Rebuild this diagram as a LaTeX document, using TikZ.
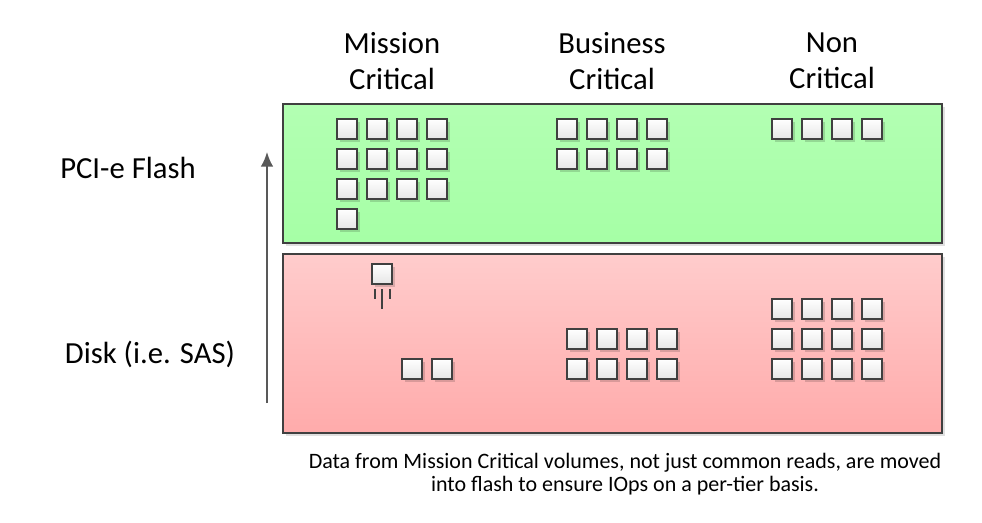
\documentclass[tikz,border=0pt]{standalone}
\usepackage{fontspec}
\setmainfont{Carlito}
\usetikzlibrary{shadows,arrows.meta}
\tikzset{>=latex}
\tikzset{
  tier/.style={draw=black!75,line width=0.8pt,inner sep=0pt,
    drop shadow={shadow xshift=2.5pt,shadow yshift=-2.5pt,fill=black,opacity=0.12}},
  vol/.style={draw=black!75,line width=0.9pt,minimum size=15pt,inner sep=0pt,
    top color=white,bottom color=black!10,
    drop shadow={shadow xshift=2.2pt,shadow yshift=-2.2pt,fill=black,opacity=0.15}},
  head/.style={font=\fontsize{23}{27}\selectfont,align=center},
  note/.style={font=\fontsize{16.5}{17.25}\selectfont,align=center}
}
\begin{document}
\begin{tikzpicture}[x=0.75pt,y=-0.75pt]
            \useasboundingbox (0,0) rectangle (982,522);
            % tiers
            \node[tier,top color=green!30,bottom color=green!35,minimum width=494.25pt,minimum height=104.25pt] (flash) at (612.5,173.5){};
            \node[tier,top color=red!20,bottom color=red!33,minimum width=494.25pt,minimum height=134.25pt] (disk) at (612.5,343.5){};
            % headings
            \node[head] (mc) at (392,61){Mission\\Critical};
            \node[head] (bc) at (612,61){Business\\Critical};
            \node[head] (nc) at (832,61){Non\\Critical};
            \node[head] (pci) at (128,168){PCI-e Flash};
            \node[head] (sas) at (150,354){Disk (i.e. SAS)};
            % arrow
            \coordinate (lo) at (267,403);
            \coordinate (hi) at (267,152);
            \draw[-{Latex[length=11pt,width=9.5pt]},black!65,line width=1.5pt] (lo) -- (hi);
            % flash volumes
            \foreach \c in {0,...,3}{
              \foreach \r in {0,1,2}
                \node[vol] at (347+30*\c,129+30*\r){};
              \foreach \r in {0,1}
                \node[vol] at (567+30*\c,129+30*\r){};
              \node[vol] at (782+30*\c,129){};
            }
            \node[vol] (last) at (347,219){};
            % disk volumes
            \node[vol] (up) at (382,274){};
            \draw[black!75,line width=0.9pt] (375,289) -- (375,299);
            \draw[black!75,line width=0.9pt] (382,289) -- (382,309);
            \draw[black!75,line width=0.9pt] (390,289) -- (390,299);
            \node[vol] (m1) at (412,369){};
            \node[vol] (m2) at (442,369){};
            \foreach \c in {0,...,3}{
              \foreach \r in {0,1}
                \node[vol] at (577+30*\c,339+30*\r){};
              \foreach \r in {0,1,2}
                \node[vol] at (782+30*\c,309+30*\r){};
            }
            % caption
            \node[note] (cap) at (625,474){Data from Mission Critical volumes, not just common reads, are moved\\into flash to ensure IOps on a per-tier basis.};
        \end{tikzpicture}
\end{document}
